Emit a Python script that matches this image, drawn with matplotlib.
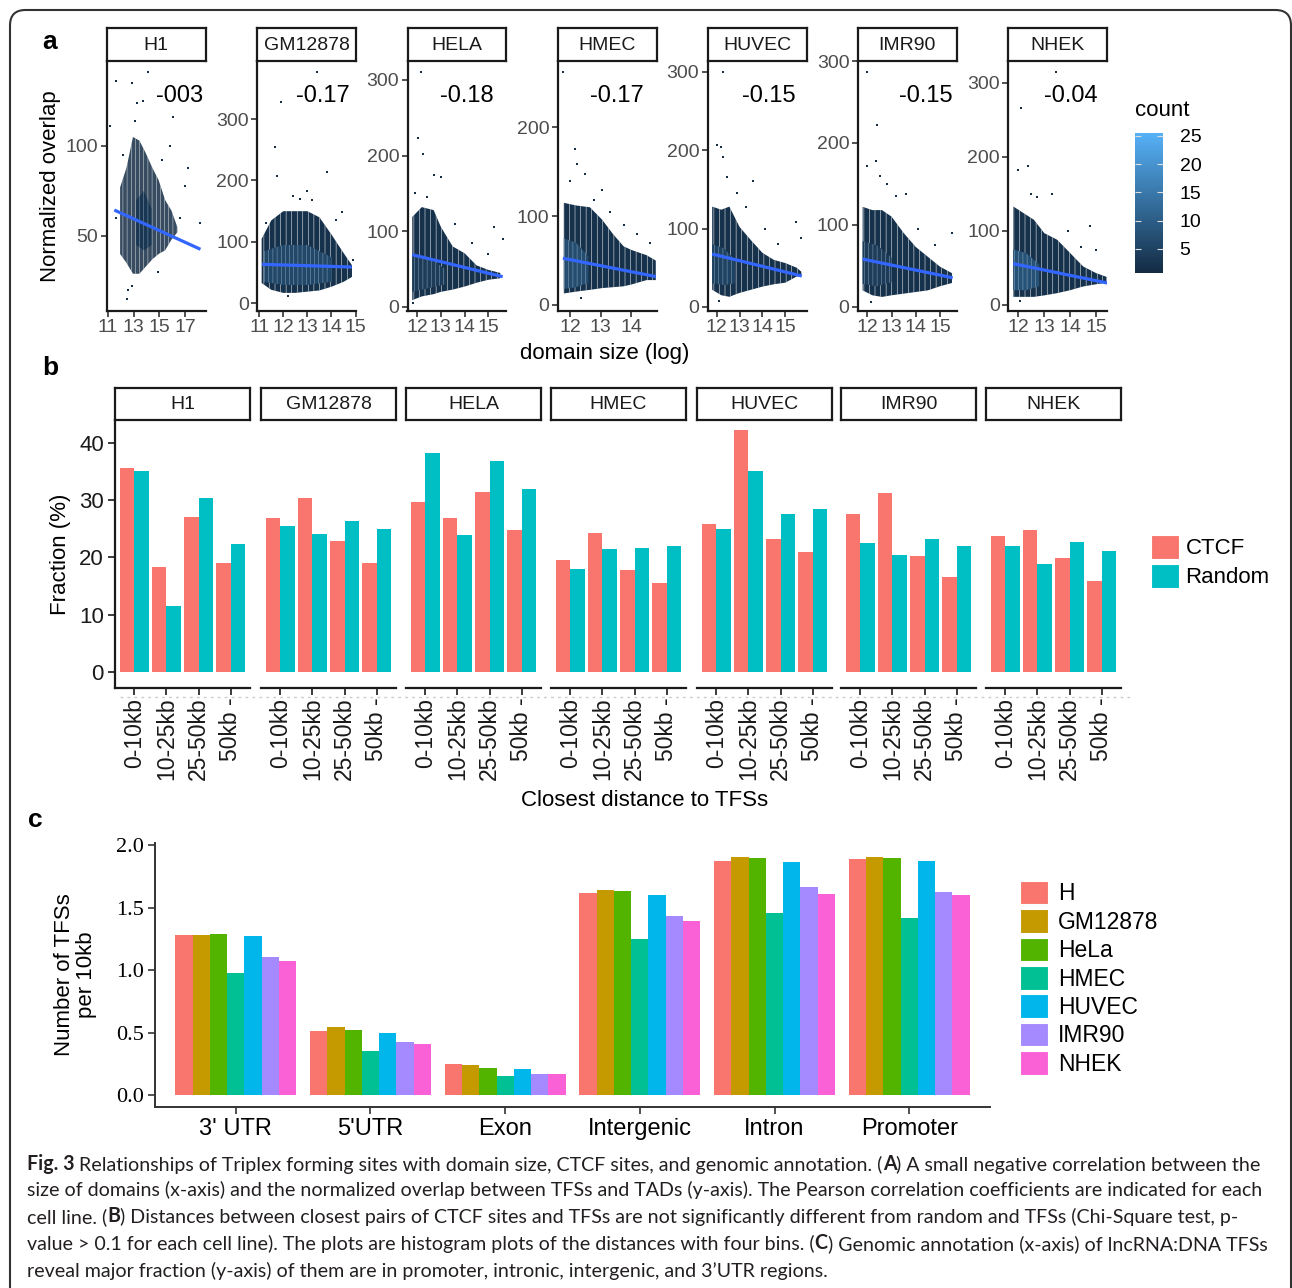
import matplotlib
matplotlib.use("Agg")
import matplotlib.pyplot as plt
import numpy as np
from matplotlib.colors import LinearSegmentedColormap, Normalize
from matplotlib.patches import FancyBboxPatch, Patch
from matplotlib.transforms import ScaledTranslation
from matplotlib.text import Annotation
import matplotlib.colorbar as mcolorbar

plt.rcParams['font.family'] = ['Liberation Sans', 'DejaVu Sans']
plt.rcParams['hatch.linewidth'] = 0.35

# ---------------- DATA ----------------
cells = ["H1", "GM12878", "HELA", "HMEC", "HUVEC", "IMR90", "NHEK"]
corr_labels = ["-003", "-0.17", "-0.18", "-0.17", "-0.15", "-0.15", "-0.04"]

# panel a: envelopes of the dense 2D-binned cloud (domain size log vs normalized overlap)
core_x = {
    "H1": [11.95, 12.45, 12.95, 13.45, 13.95, 14.45, 14.95, 15.45, 15.95, 16.4],
    "GM12878": [11.1, 11.5, 12.0, 12.5, 13.0, 13.5, 14.0, 14.5, 14.85],
    "HELA": [11.8, 12.2, 12.7, 13.0, 13.5, 14.0, 14.5, 15.0, 15.5],
    "HMEC": [11.8, 12.2, 12.65, 13.05, 13.4, 13.75, 14.0, 14.5, 14.8],
    "HUVEC": [11.8, 12.2, 12.55, 13.0, 13.5, 14.0, 14.5, 15.0, 15.5, 15.7],
    "IMR90": [11.8, 12.2, 12.6, 13.0, 13.5, 14.0, 14.5, 15.0, 15.5],
    "NHEK": [11.8, 12.2, 12.6, 13.0, 13.5, 14.0, 14.5, 15.0, 15.4],
}
core_lo = {
    "H1": [40, 35, 29, 29, 33, 37, 40, 42, 48, 52],
    "GM12878": [33, 22, 17, 17, 19, 21, 27, 35, 43],
    "HELA": [9, 14, 17, 20, 23, 27, 32, 36, 38],
    "HMEC": [13, 15, 17, 19, 20, 21, 23, 28, 28],
    "HUVEC": [22, 15, 13, 18, 22, 26, 29, 31, 39, 40],
    "IMR90": [20, 14, 12, 14, 16, 18, 20, 25, 29],
    "NHEK": [11, 11, 11, 13, 16, 20, 25, 28, 30],
}
core_hi = {
    "H1": [77, 88, 105, 103, 96, 88, 81, 70, 64, 55],
    "GM12878": [105, 135, 150, 150, 150, 140, 112, 82, 62],
    "HELA": [119, 132, 128, 106, 80, 71, 55, 49, 45],
    "HMEC": [115, 112, 110, 96, 80, 66, 62, 56, 50],
    "HUVEC": [128, 124, 128, 102, 85, 69, 60, 56, 50, 45],
    "IMR90": [122, 118, 118, 110, 90, 73, 61, 49, 41],
    "NHEK": [133, 124, 115, 97, 88, 70, 52, 43, 38],
}
core_count = {"H1": 1, "GM12878": 2, "HELA": 2, "HMEC": 2, "HUVEC": 2, "IMR90": 2, "NHEK": 2}
# denser (lighter) inner region
inner_x = {
    "H1": [13.2, 13.8, 14.4], "GM12878": [11.2, 12.0, 13.0, 14.0],
    "HELA": [11.8, 12.5, 13.2], "HMEC": [11.8, 12.2, 12.6],
    "HUVEC": [11.8, 12.3, 12.8], "IMR90": [11.8, 12.4, 13.0], "NHEK": [11.8, 12.3, 12.8],
}
inner_lo = {
    "H1": [45, 42, 45], "GM12878": [35, 30, 30, 35], "HELA": [20, 25, 30], "HMEC": [18, 20, 25],
    "HUVEC": [30, 28, 30], "IMR90": [28, 25, 30], "NHEK": [20, 20, 25],
}
inner_hi = {
    "H1": [70, 75, 65], "GM12878": [85, 95, 95, 75], "HELA": [70, 65, 50], "HMEC": [75, 70, 55],
    "HUVEC": [80, 75, 60], "IMR90": [80, 75, 60], "NHEK": [75, 70, 55],
}
inner_count = {"H1": 3, "GM12878": 6, "HELA": 4, "HMEC": 7, "HUVEC": 5, "IMR90": 4, "NHEK": 8}
# isolated points (count = 1)
out_x = {
    "H1": [11.64, 11.2, 14.14, 12.86, 13.7, 16.1, 17.26, 18.2, 12.45, 11.6, 13.3, 15.8, 17.0,
           12.2, 12.6, 13.1, 15.2, 16.6, 12.9, 14.9],
    "GM12878": [13.4, 11.9, 11.64, 13.83, 11.75, 12.98, 14.43, 12.4, 13.2, 11.3, 12.7, 14.2, 14.9, 12.2],
    "HELA": [12.17, 12.05, 12.26, 12.7, 13.0, 15.24, 15.6, 11.9, 12.4, 13.6, 14.3, 15.0, 11.85],
    "HMEC": [11.78, 12.17, 12.24, 12.5, 13.03, 13.75, 14.6, 12.0, 12.8, 13.3, 14.2, 12.35],
    "HUVEC": [12.27, 12.0, 12.2, 12.27, 12.44, 13.6, 15.47, 15.7, 12.9, 13.3, 14.1, 14.7, 12.1],
    "IMR90": [12.0, 12.38, 12.0, 12.35, 12.8, 13.6, 15.5, 12.5, 13.2, 14.1, 14.8, 12.15],
    "NHEK": [13.45, 12.1, 12.0, 12.37, 12.7, 14.76, 15.0, 13.3, 12.5, 13.9, 14.4, 12.05],
}
out_y = {
    "H1": [136, 111, 141, 135, 125, 116, 88, 57, 15, 60, 124, 100, 78,
           95, 20, 114, 92, 60, 22, 30],
    "GM12878": [376, 328, 254, 213, 208, 183, 148, 175, 168, 130, 170, 135, 70, 12],
    "HELA": [310, 224, 202, 174, 172, 106, 90, 150, 145, 110, 85, 70, 5],
    "HMEC": [262, 176, 159, 147, 129, 90, 70, 140, 118, 105, 80, 8],
    "HUVEC": [299, 206, 204, 191, 166, 161, 109, 88, 145, 128, 100, 80, 8],
    "IMR90": [286, 222, 172, 178, 150, 138, 90, 160, 135, 95, 75, 6],
    "NHEK": [314, 266, 182, 188, 146, 106, 74, 150, 150, 100, 78, 5],
}
# fitted regression line end points (x0, y0, x1, y1)
fit_x0 = {"H1": 11.5, "GM12878": 11.12, "HELA": 11.8, "HMEC": 11.77, "HUVEC": 11.8, "IMR90": 11.8, "NHEK": 11.8}
fit_y0 = {"H1": 64.4, "GM12878": 63.5, "HELA": 69.1, "HMEC": 52.6, "HUVEC": 67.6, "IMR90": 58.2, "NHEK": 55.8}
fit_x1 = {"H1": 18.2, "GM12878": 14.84, "HELA": 15.6, "HMEC": 14.8, "HUVEC": 15.72, "IMR90": 15.53, "NHEK": 15.43}
fit_y1 = {"H1": 42.6, "GM12878": 59.1, "HELA": 40.0, "HMEC": 32.0, "HUVEC": 39.5, "IMR90": 35.4, "NHEK": 29.7}
a_xticks = {"H1": [11, 13, 15, 17], "GM12878": [11, 12, 13, 14, 15], "HELA": [12, 13, 14, 15],
            "HMEC": [12, 13, 14], "HUVEC": [12, 13, 14, 15], "IMR90": [12, 13, 14, 15], "NHEK": [12, 13, 14, 15]}
a_yticks = {"H1": [50, 100], "GM12878": [0, 100, 200, 300], "HELA": [0, 100, 200, 300],
            "HMEC": [0, 100, 200], "HUVEC": [0, 100, 200, 300], "IMR90": [0, 100, 200, 300],
            "NHEK": [0, 100, 200, 300]}
count_ticks = [5, 10, 15, 20, 25]

# panel b
dist_bins = ["0-10kb", "10-25kb", "25-50kb", "50kb -"]
ctcf = {
    "H1": [35.7, 18.3, 27.0, 19.0],
    "GM12878": [26.9, 30.4, 22.8, 19.1],
    "HELA": [29.7, 26.9, 31.4, 24.8],
    "HMEC": [19.5, 24.3, 17.8, 15.6],
    "HUVEC": [25.9, 42.3, 23.2, 20.9],
    "IMR90": [27.6, 31.3, 20.3, 16.6],
    "NHEK": [23.7, 24.8, 19.9, 15.9],
}
random_ = {
    "H1": [35.1, 11.6, 30.4, 22.3],
    "GM12878": [25.5, 24.1, 26.3, 24.9],
    "HELA": [38.3, 23.9, 36.8, 32.0],
    "HMEC": [17.9, 21.5, 21.7, 22.0],
    "HUVEC": [25.0, 35.1, 27.5, 28.5],
    "IMR90": [22.6, 20.5, 23.3, 22.0],
    "NHEK": [22.0, 18.8, 22.7, 21.2],
}
b_yticks = [0, 10, 20, 30, 40]

# panel c
annotations = ["3' UTR", "5'UTR", "Exon", "Intergenic", "Intron", "Promoter"]
c_series = ["H", "GM12878", "HeLa", "HMEC", "HUVEC", "IMR90", "NHEK"]
c_values = {
    "H":       [1.279, 0.512, 0.250, 1.614, 1.869, 1.891],
    "GM12878": [1.284, 0.544, 0.237, 1.641, 1.902, 1.905],
    "HeLa":    [1.290, 0.517, 0.218, 1.633, 1.899, 1.897],
    "HMEC":    [0.974, 0.356, 0.152, 1.252, 1.453, 1.420],
    "HUVEC":   [1.273, 0.495, 0.212, 1.597, 1.861, 1.875],
    "IMR90":   [1.105, 0.427, 0.171, 1.429, 1.665, 1.624],
    "NHEK":    [1.075, 0.405, 0.169, 1.390, 1.611, 1.597],
}
c_yticks = [0.0, 0.5, 1.0, 1.5, 2.0]

caption_lines = [
    [("Fig. 3", True), (" Relationships of Triplex forming sites with domain size, CTCF sites, and genomic annotation. (", False),
     ("A", True), (") A small negative correlation between the", False)],
    [("size of domains (x-axis) and the normalized overlap between TFSs and TADs (y-axis). The Pearson correlation coefficients are indicated for each", False)],
    [("cell line. (", False), ("B", True), (") Distances between closest pairs of CTCF sites and TFSs are not significantly different from random and TFSs (Chi-Square test, p-", False)],
    [("value > 0.1 for each cell line). The plots are histogram plots of the distances with four bins. (", False), ("C", True),
     (") Genomic annotation (x-axis) of lncRNA:DNA TFSs", False)],
    [("reveal major fraction (y-axis) of them are in promoter, intronic, intergenic, and 3\u2019UTR regions.", False)],
]

# ---------------- STYLE / LAYOUT ----------------
W, H = 1292, 1288
fig = plt.figure(figsize=(W / 100, H / 100), dpi=100)


def axpx(x0, y0, x1, y1, **kw):
    return fig.add_axes([x0 / W, 1 - y1 / H, (x1 - x0) / W, (y1 - y0) / H], **kw)


def strip(x0, y0, x1, y1, label, size):
    s = axpx(x0, y0, x1, y1)
    s.set_xticks([]); s.set_yticks([])
    for sp in s.spines.values():
        sp.set_linewidth(1.6); sp.set_color('#1a1a1a')
    s.text(0.5, 0.47, label, ha='center', va='center', fontsize=size, color='#1a1a1a')
    return s


# outer frame
frame = FancyBboxPatch((10 / W, -20 / H), (1291 - 10) / W, (H - 10 + 20) / H,
                       boxstyle="round,pad=0,rounding_size=0.012", transform=fig.transFigure,
                       fill=False, ec='#333333', lw=1.5, mutation_aspect=W / H)
fig.add_artist(frame)

cmap = LinearSegmentedColormap.from_list("gg", ["#132B43", "#56B1F7"])
cnorm = Normalize(0.75, 25.5)
gray30 = '#4D4D4D'

# ---------------- PANEL A ----------------
a_left = [106.6, 257.3, 407.5, 557.7, 707.6, 857.8, 1008]
a_xlim = {"H1": (10.9, 18.6), "GM12878": (10.92, 15.03), "HELA": (11.6, 15.76), "HMEC": (11.6, 14.83),
          "HUVEC": (11.6, 15.93), "IMR90": (11.6, 15.7), "NHEK": (11.6, 15.42)}
a_ylim = {"H1": (8.3, 147.4), "GM12878": (-12.5, 395), "HELA": (-5.3, 325.5), "HMEC": (-6.8, 275),
          "HUVEC": (-5.1, 314), "IMR90": (-5.2, 300.4), "NHEK": (-8.1, 329.7)}
corr_pos = [0.74, 0.66, 0.6, 0.6, 0.62, 0.69, 0.63]

for i, c in enumerate(cells):
    x0 = a_left[i]
    ax = axpx(x0, 60.7, x0 + 99, 311)
    strip(x0, 28, x0 + 99, 60.7, c, 14)
    ax.fill_between(core_x[c], core_lo[c], core_hi[c], facecolor=cmap(cnorm(core_count[c])),
                    alpha=0.85 if c == "H1" else 1.0,
                    edgecolor=(1, 1, 1, 0.55), hatch='||||' if c == "H1" else '|||', lw=0, zorder=1)
    ax.fill_between(inner_x[c], inner_lo[c], inner_hi[c], facecolor=cmap(cnorm(inner_count[c])),
                    edgecolor=(0.85, 0.9, 0.95, 0.6), hatch='||||', lw=0, zorder=2)
    ax.scatter(out_x[c], out_y[c], s=3, marker='s', color=cmap(cnorm(1)), lw=0, zorder=3)
    ax.plot([fit_x0[c], fit_x1[c]], [fit_y0[c], fit_y1[c]], color='#3366FF', lw=2.3, zorder=4,
            solid_capstyle='butt')
    ax.set_xlim(*a_xlim[c]); ax.set_ylim(*a_ylim[c])
    ax.set_xticks(a_xticks[c]); ax.set_yticks(a_yticks[c])
    ax.tick_params(labelsize=14, colors='#333333', labelcolor=gray30, length=4, width=1.2, pad=2)
    for sp in ['top', 'right']:
        ax.spines[sp].set_visible(False)
    for sp in ['left', 'bottom']:
        ax.spines[sp].set_linewidth(1.6); ax.spines[sp].set_color('#1a1a1a')
    ax.text(corr_pos[i], 0.86, corr_labels[i], transform=ax.transAxes, ha='center', va='center',
            fontsize=17, color='black')
    if i == 0:
        ax.set_ylabel("Normalized overlap", fontsize=16, labelpad=3)

fig.text(605 / W, 1 - 353 / H, "domain size (log)", ha='center', va='center', fontsize=16)
fig.text(50 / W, 1 - 42 / H, "a", ha='center', va='center', fontsize=19, weight='bold')

# colorbar
cax = axpx(1135, 133, 1163, 273)
cb = mcolorbar.ColorbarBase(cax, cmap=cmap, norm=cnorm, orientation='vertical')
cb.outline.set_visible(False)
cb.set_ticks(count_ticks)
cax.tick_params(length=0, labelsize=14, pad=12)
for t in count_ticks:
    cax.hlines(t, 0, 0.2, transform=cax.get_yaxis_transform(), color='#dddddd', lw=0.8)
    cax.hlines(t, 0.8, 1.0, transform=cax.get_yaxis_transform(), color='#dddddd', lw=0.8)
fig.text(1135 / W, 1 - 110 / H, "count", ha='left', va='center', fontsize=16)

# ---------------- PANEL B ----------------
b_left = [115, 261, 406, 551, 697, 841, 986]
red, teal = '#F8766D', '#00BFC4'
pos = np.arange(1, 5)
for i, c in enumerate(cells):
    x0 = b_left[i]
    ax = axpx(x0, 420, x0 + 135, 688)
    strip(x0, 388, x0 + 135, 420, c, 14)
    ax.bar(pos - 0.225, ctcf[c], width=0.45, color=red, lw=0, label="CTCF")
    ax.bar(pos + 0.225, random_[c], width=0.45, color=teal, lw=0, label="Random")
    ax.set_xlim(0.4, 4.6); ax.set_ylim(-2.8, 44.0)
    ax.set_xticks(pos)
    ax.set_xticklabels(dist_bins, rotation=90, ha='center', va='top', fontsize=16.5)
    for lab in ax.get_xticklabels():
        lab.set_transform(lab.get_transform() + ScaledTranslation(0.08, 0, fig.dpi_scale_trans))
    ax.tick_params(axis='x', length=5, width=1.2, pad=2, colors='#1a1a1a')
    ax.spines['top'].set_visible(False); ax.spines['right'].set_visible(False)
    ax.spines['bottom'].set_linewidth(1.6); ax.spines['bottom'].set_color('#1a1a1a')
    if i == 0:
        ax.set_yticks(b_yticks)
        ax.tick_params(axis='y', labelsize=16, length=5, width=1.2, pad=3, colors='#1a1a1a')
        ax.spines['left'].set_linewidth(1.6); ax.spines['left'].set_color('#1a1a1a')
        ax.set_ylabel("Fraction (%)", fontsize=16, labelpad=6)
    else:
        ax.spines['left'].set_visible(False)
        ax.set_yticks([])

fig.add_artist(plt.Line2D([120 / W, 1134 / W], [1 - 697 / H, 1 - 697 / H], color='#cccccc',
                          lw=1, ls=(0, (2, 3)), transform=fig.transFigure, zorder=0))
fig.text(645 / W, 1 - 801 / H, "Closest distance to TFSs", ha='center', va='center', fontsize=16)
fig.text(50 / W, 1 - 368 / H, "b", ha='center', va='center', fontsize=19, weight='bold')
fig.legend(handles=[Patch(facecolor=red, edgecolor='white', lw=0.8, label="CTCF"),
                    Patch(facecolor=teal, edgecolor='white', lw=0.8, label="Random")],
           loc='upper left', bbox_to_anchor=(1151 / W, 1 - 535 / H), frameon=False, fontsize=16,
           handlelength=1.25, handleheight=1.25, labelspacing=0.22, handletextpad=0.3, borderpad=0,
           borderaxespad=0)

# ---------------- PANEL C ----------------
cx = axpx(155, 843, 990, 1107)
c_colors = ['#F8766D', '#C49A00', '#53B400', '#00C094', '#00B6EB', '#A58AFF', '#FB61D7']
catpos = np.arange(1, 7)
bw = 0.9 / 7
for j, s in enumerate(c_series):
    cx.bar(catpos + (j - 3) * bw, c_values[s], width=bw, color=c_colors[j], lw=0, label=s)
cx.set_xlim(0.4, 6.6); cx.set_ylim(-0.095, 2.016)
cx.set_xticks(catpos); cx.set_xticklabels(annotations, fontsize=17)
cx.set_yticks(c_yticks)
cx.set_yticklabels([f"{v:.1f}" for v in c_yticks], fontsize=16, family=['Liberation Serif', 'DejaVu Serif'])
cx.tick_params(length=5, width=1.2, colors='#333333', labelcolor='black', pad=3)
cx.spines['top'].set_visible(False); cx.spines['right'].set_visible(False)
for sp in ['left', 'bottom']:
    cx.spines[sp].set_linewidth(1.4); cx.spines[sp].set_color('#333333')
cx.set_ylabel("Number of TFSs\nper 10kb", fontsize=16, labelpad=14, linespacing=1.05)
fig.text(35 / W, 1 - 820 / H, "c", ha='center', va='center', fontsize=19, weight='bold')
hand = [Patch(facecolor=c_colors[j], edgecolor='white', lw=0.8, label=s) for j, s in enumerate(c_series)]
fig.legend(handles=hand, loc='upper left', bbox_to_anchor=(1020 / W, 1 - 881 / H), frameon=False,
           fontsize=16.5, handlelength=1.2, handleheight=1.2, labelspacing=0.17, handletextpad=0.45,
           borderpad=0, borderaxespad=0)

# ---------------- CAPTION ----------------
cap_y = [1164, 1190, 1217, 1244, 1271]
cap_color = '#231F20'
chained = []
for li, line in enumerate(caption_lines):
    prev = None
    for k, (seg, bold) in enumerate(line):
        kw = dict(fontsize=14, color=cap_color, weight='bold' if bold else 'normal',
                  family=['Lato', 'DejaVu Sans'])
        if prev is None:
            t = fig.text(27 / W, 1 - cap_y[li] / H, seg, ha='left', va='center', **kw)
        else:
            t = fig.add_artist(Annotation(seg, xy=(1, 0), xycoords=prev, ha='left', va='bottom', **kw))
        chained.append(t)
        prev = t

fig.canvas.draw()
r = fig.canvas.get_renderer()
n1 = len(caption_lines[0])
width = chained[n1 - 1].get_window_extent(r).x1 - chained[0].get_window_extent(r).x0
scale = (1265 - 27) / width
for t in chained:
    t.set_fontsize(14 * scale)

fig.savefig("out.png", dpi=100)
